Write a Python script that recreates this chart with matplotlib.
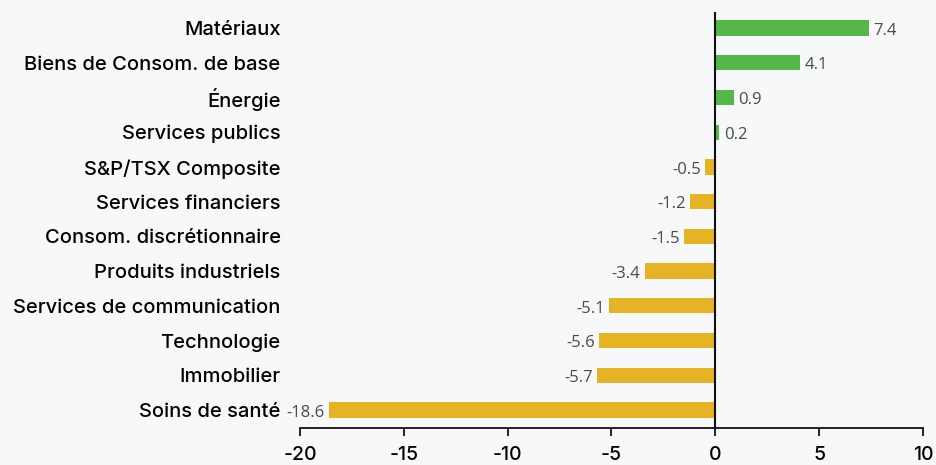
import numpy as np
import matplotlib.pyplot as plt

categories = ['Matériaux', 'Biens de Consom. de base', 'Énergie', 'Services publics',
              'S&P/TSX Composite', 'Services financiers', 'Consom. discrétionnaire',
              'Produits industriels', 'Services de communication', 'Technologie',
              'Immobilier', 'Soins de santé']
values = [7.4, 4.1, 0.9, 0.2, -0.5, -1.2, -1.5, -3.4, -5.1, -5.6, -5.7, -18.6]
xticks = [-20, -15, -10, -5, 0, 5, 10]

bg = '#f7f8fa'
green = '#55b74a'
yellow = '#e6b325'

fig = plt.figure(figsize=(9.36, 4.65), dpi=100, facecolor=bg)
ax = fig.add_axes([300 / 936, 37 / 465, 623 / 936, 416 / 465], facecolor=bg)

y = np.arange(len(categories))
colors = [green if v >= 0 else yellow for v in values]
ax.barh(y, values, height=0.44, color=colors, zorder=2)

for yi, v in zip(y, values):
    if v >= 0:
        ax.text(v + 0.2, yi + 0.08, f'{v}', ha='left', va='center',
                fontsize=12, color='#4a4a4a', family='Open Sans')
    else:
        ax.text(v - 0.2, yi + 0.08, f'{v}', ha='right', va='center',
                fontsize=12, color='#4a4a4a', family='Open Sans')

ax.axvline(0, color='#111111', lw=1.5, zorder=3)

ax.set_xlim(-20, 10)
ax.set_ylim(11.52, -0.46)
ax.set_xticks(xticks)
ax.set_xticklabels([str(t) for t in xticks], fontsize=14, family='Inter', weight='medium')
ax.set_yticks(y)
ax.set_yticklabels(categories, fontsize=14.5, family='Inter', weight='medium')
ax.tick_params(axis='y', length=0, pad=14)
ax.tick_params(axis='x', length=6, width=1.3, color='#111111', pad=7)

for s in ['top', 'right', 'left']:
    ax.spines[s].set_visible(False)
ax.spines['bottom'].set_color('#111111')
ax.spines['bottom'].set_linewidth(1.3)

fig.savefig('out.png', dpi=100, facecolor=bg)
